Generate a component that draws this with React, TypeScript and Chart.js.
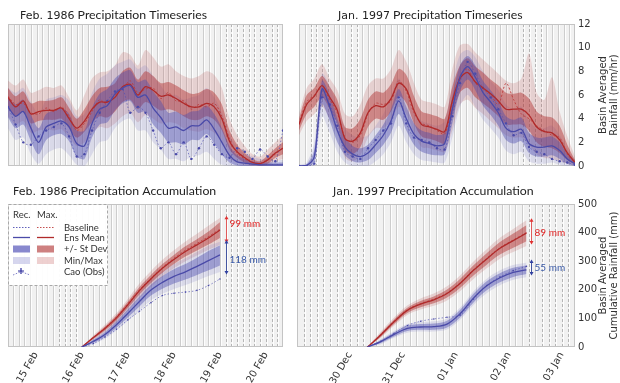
import React, { useEffect, useRef } from 'react';
import { Chart, registerables } from 'chart.js';
Chart.register(...registerables);

// ---------------- DATA ----------------
// Timeseries (mm/hr), hours since start of window
const TS_HOURS = [0,2,4,6,8,10,12,14,16,18,20,22,24,26,28,30,32,34,36,38,40,42,44,46,48,50,52,54,56,58,60,62,64,66,68,70,72];

// Feb. 1986 timeseries
const tlRedMean = [5.8,5.0,5.5,4.4,4.6,4.7,4.7,4.9,4.0,3.2,3.8,4.8,5.4,5.4,5.8,6.7,6.9,6.0,6.7,6.4,5.9,6.0,5.7,5.3,5.0,5.0,5.3,5.0,4.0,2.1,1.2,0.7,0.3,0.2,0.5,1.1,1.5];
const tlRedBase = [5.9,5.2,5.3,4.5,4.4,4.9,4.6,5.0,4.2,3.0,3.6,4.6,5.6,5.2,6.0,6.5,7.2,6.2,6.5,6.6,5.7,6.2,5.5,5.5,4.8,5.2,5.0,5.3,4.2,2.3,1.1,0.6,0.3,0.2,0.6,1.0,1.6];
const tlRedSdLo = [5.0,4.2,4.6,3.6,3.8,3.9,3.9,4.0,3.2,2.4,2.9,3.7,4.2,4.1,4.6,5.4,5.6,4.8,5.4,5.1,4.7,4.8,4.6,4.2,3.9,3.9,4.2,3.9,3.0,1.4,0.7,0.3,0.1,0.05,0.2,0.7,1.0];
const tlRedSdHi = [6.6,5.9,6.3,5.3,5.5,5.5,5.6,5.8,4.9,4.0,4.8,5.9,6.6,6.7,7.0,8.0,8.3,7.3,8.0,7.6,7.0,7.1,6.8,6.4,6.1,6.2,6.5,6.2,5.2,3.0,1.8,1.1,0.6,0.4,0.9,1.5,2.0];
const tlRedMinLo = [4.2,3.5,3.8,2.8,3.0,3.1,3.0,3.1,2.4,1.7,2.0,2.8,3.3,3.2,3.6,4.2,4.5,3.7,4.3,4.0,3.6,3.7,3.6,3.2,3.0,2.9,3.1,2.8,2.0,0.7,0.3,0.1,0,0,0.05,0.4,0.6];
const tlRedMinHi = [7.2,6.8,7.3,6.2,6.4,6.7,6.6,6.8,5.8,4.7,6.0,7.4,7.9,8.0,8.5,9.6,9.4,8.5,9.8,9.2,8.4,8.6,8.0,7.6,7.4,7.6,8.0,7.7,6.6,4.0,2.6,1.7,1.0,0.8,1.4,2.0,2.6];
const tlBlueMean = [5.0,4.2,4.6,3.2,2.0,3.3,3.6,3.8,3.3,1.9,1.7,3.6,4.8,5.1,6.1,6.6,6.8,5.8,6.0,4.9,4.1,3.2,3.3,3.0,3.4,3.4,3.9,3.1,2.0,0.9,0.35,0.25,0.15,0.1,0.1,0.1,0.1];
const tlBlueBase = [5.0,3.5,2.0,1.8,2.5,3.0,3.3,3.6,2.5,0.8,1.0,3.0,4.5,5.5,6.3,6.5,4.5,5.0,4.5,3.0,1.5,2.0,1.0,2.0,0.6,1.5,2.5,1.8,1.0,0.7,1.5,1.2,0.6,1.4,0.8,0.4,3.0];
const tlBlueSdLo = [4.1,3.2,3.5,2.1,1.0,2.2,2.6,2.7,2.1,0.8,0.6,2.4,3.5,3.7,4.7,5.3,5.5,4.5,4.6,3.5,2.8,2.0,2.0,1.8,2.2,2.2,2.7,1.9,1.0,0.3,0.05,0,0,0,0,0,0];
const tlBlueSdHi = [5.8,5.2,5.6,4.3,3.2,4.4,4.7,4.9,4.4,3.0,3.0,4.9,6.1,6.5,7.4,7.9,8.1,7.1,7.3,6.3,5.5,4.5,4.6,4.3,4.6,4.7,5.1,4.4,3.2,1.7,0.9,0.6,0.4,0.3,0.3,0.3,0.3];
const tlBlueMinLo = [3.2,2.2,2.4,1.0,0.2,1.0,1.4,1.5,0.9,0.1,0,1.0,2.0,2.2,3.2,3.8,4.0,3.0,3.0,2.0,1.4,0.6,0.6,0.4,0.8,0.9,1.2,0.6,0.1,0,0,0,0,0,0,0,0];
const tlBlueMinHi = [6.6,6.2,6.6,5.4,4.4,5.6,5.8,6.0,5.5,4.2,4.4,6.2,7.4,7.8,8.5,8.8,9.0,8.2,8.5,7.6,6.8,6.0,6.0,5.6,5.8,6.0,6.6,5.8,4.5,2.6,1.6,1.1,0.8,0.6,0.6,0.5,0.5];

// Jan. 1997 timeseries
const trRedMean = [3.5,5.2,5.9,6.8,5.8,4.7,2.3,2.1,2.8,4.5,5.1,5.0,5.7,7.0,6.5,4.7,3.5,3.3,3.1,2.9,5.5,7.4,7.9,7.1,6.6,6.1,5.5,4.8,4.8,4.8,4.3,3.3,2.9,2.8,2.2,1.1,0.3];
const trRedBase = [3.6,5.4,6.0,6.6,5.6,4.5,2.4,2.0,2.6,4.4,5.3,5.2,5.5,7.2,6.3,4.5,3.6,3.4,3.0,2.7,5.2,7.6,8.2,7.0,6.5,6.0,5.2,7.0,5.6,4.4,4.0,3.4,3.0,2.6,2.4,1.0,0.3];
const trRedSdLo = [3.0,4.4,5.0,5.8,4.8,3.6,1.3,1.0,1.6,3.3,4.0,3.9,4.6,5.9,5.3,3.6,2.5,2.3,2.1,1.9,4.2,6.2,6.6,5.8,5.3,4.8,4.2,3.5,3.5,3.5,3.0,2.0,1.6,1.5,1.1,0.5,0.1];
const trRedSdHi = [4.0,6.0,6.6,7.6,6.7,5.6,3.3,3.2,4.0,5.6,6.3,6.2,6.9,8.2,7.7,5.9,4.6,4.4,4.2,4.0,6.7,8.5,9.1,8.4,7.9,7.3,6.8,6.2,6.1,6.2,5.7,4.6,4.2,4.1,3.4,1.8,0.5];
const trRedMinLo = [2.6,3.8,4.4,5.0,4.0,2.8,0.7,0.4,0.9,2.4,3.2,3.2,3.8,5.0,4.4,2.8,1.6,1.5,1.3,1.2,3.0,5.2,5.6,4.9,4.4,3.8,3.2,2.6,2.4,2.4,1.8,1.0,0.7,0.6,0.4,0.2,0];
const trRedMinHi = [4.4,6.6,7.4,8.6,7.4,6.4,4.4,4.2,5.2,6.8,7.4,7.4,8.2,9.8,8.8,7.0,5.6,5.4,5.2,5.0,8.2,10.2,10.3,9.6,9.0,8.4,7.8,7.2,7.0,7.4,9.5,6.2,5.6,7.5,4.6,2.5,0.8];
const trBlueMean = [0,0.05,0.8,6.5,5.0,3.0,1.6,1.0,0.8,1.1,1.8,2.6,3.8,5.5,4.0,2.7,2.1,1.9,1.7,1.9,4.8,7.5,8.4,7.5,6.2,5.4,4.5,3.2,2.9,3.1,1.9,1.6,1.6,1.7,1.3,0.6,0.2];
const trBlueBase = [0,0,0.2,5.8,5.2,3.4,1.2,0.8,0.6,1.5,2.2,3.0,3.6,5.8,3.6,2.4,2.2,2.0,1.5,1.4,4.2,7.0,8.8,7.8,6.6,5.8,4.8,3.6,2.6,2.8,1.6,1.2,1.0,0.6,0.4,0.3,0.1];
const trBlueSdLo = [0,0,0.3,5.2,3.8,2.0,0.9,0.4,0.3,0.5,1.1,1.8,2.8,4.4,3.0,1.8,1.2,1.0,0.9,1.0,3.6,6.3,7.3,6.4,5.1,4.3,3.4,2.2,1.9,2.1,1.1,0.8,0.8,0.9,0.6,0.2,0];
const trBlueSdHi = [0.05,0.15,1.4,7.2,6.0,4.0,2.4,1.7,1.5,1.8,2.6,3.5,4.8,6.5,5.0,3.6,3.0,2.8,2.6,2.8,5.9,8.5,9.3,8.5,7.2,6.4,5.5,4.2,3.9,4.1,2.8,2.4,2.4,2.5,2.0,1.0,0.4];
const trBlueMinLo = [0,0,0,4.2,2.8,1.2,0.3,0,0,0,0.4,1.0,2.0,3.4,2.0,1.0,0.5,0.4,0.3,0.3,2.4,5.0,6.0,5.0,3.9,3.2,2.4,1.3,1.0,1.2,0.4,0.2,0.2,0.3,0.1,0,0];
const trBlueMinHi = [0.1,0.3,2.0,7.8,6.8,5.0,3.2,2.6,2.4,2.6,3.4,4.4,5.8,7.4,6.0,4.5,3.8,3.6,3.4,3.8,7.0,9.4,9.8,9.2,8.0,7.2,6.4,5.2,4.8,5.0,3.8,3.2,3.2,3.4,2.6,1.4,0.5];

// Accumulation (mm). Feb 1986: hours since 16 Feb 00:00
const BL_HOURS = [0,6,12,18,24,30,36,42,48,54,60,66,72];
const blRedMean = [0,33,65,102,148,197,238,275,306,334,357,381,409];
const blRedBase = [0,34,67,105,152,200,240,278,310,338,362,386,412];
const blRedSdLo = [0,29,58,93,137,184,224,260,290,316,337,358,381];
const blRedSdHi = [0,37,72,111,159,210,252,290,322,352,377,404,436];
const blRedMinLo = [0,25,52,85,127,172,211,246,275,300,320,340,357];
const blRedMinHi = [0,41,78,119,169,222,266,305,338,369,396,424,451];
const blBlueMean = [0,20,44,78,118,159,199,226,247,263,282,302,322];
const blBlueBase = [0,12,35,62,95,125,155,180,188,192,198,215,238];
const blBlueSdLo = [0,15,36,67,104,142,180,204,222,236,252,268,285];
const blBlueSdHi = [0,25,52,89,132,176,218,248,272,290,312,336,355];
const blBlueMinLo = [0,11,29,58,92,128,163,186,203,217,232,248,262];
const blBlueMinHi = [0,29,59,98,144,190,234,264,290,310,332,354,368];
const BL_TICK_VALUES = [-24,0,24,48,72,96];
const BL_TICK_LABELS = ['15 Feb','16 Feb','17 Feb','18 Feb','19 Feb','20 Feb'];

// Jan 1997: hours since 30 Dec 00:00
const BR_HOURS = [8,14,20,26,32,38,44,50,56,62,68,74,80];
const brRedMean = [0,42,88,128,150,165,187,223,268,308,345,372,398];
const brRedBase = [0,44,90,130,152,167,189,225,270,310,347,374,400];
const brRedSdLo = [0,36,80,119,139,153,173,207,250,288,323,347,370];
const brRedSdHi = [0,48,96,137,161,177,201,239,286,328,367,397,426];
const brRedMinLo = [0,32,74,112,131,144,163,196,238,275,309,332,353];
const brRedMinHi = [0,53,103,145,170,187,212,251,299,342,382,413,443];
const brBlueMean = [0,19,44,65,70,71,80,117,171,214,242,261,270];
const brBlueBase = [0,20,48,75,90,98,104,112,168,215,245,267,282];
const brBlueSdLo = [0,14,37,56,60,60,68,104,156,198,226,245,255];
const brBlueSdHi = [0,24,51,74,80,82,92,130,186,230,258,277,285];
const brBlueMinLo = [0,10,32,50,54,54,61,96,147,188,216,235,244];
const brBlueMinHi = [0,28,56,80,87,90,100,138,195,239,268,287,295];
const BR_TICK_VALUES = [0,24,48,72,96];
const BR_TICK_LABELS = ['30 Dec','31 Dec','01 Jan','02 Jan','03 Jan'];

// Spread annotations (mm)
const BL_SPREAD = { x: 75, red: [450, 372], blue: [365, 262], redLabel: '99 mm', blueLabel: '118 mm', redLabelY: 431, blueLabelY: 305 };
const BR_SPREAD = { x: 82, red: [441, 367], blue: [297, 259], redLabel: '89 mm', blueLabel: '55 mm', redLabelY: 400, blueLabelY: 276 };

const LEGEND_HEAD = ['Rec.', 'Max.'];
const LEGEND_LABELS = ['Baseline', 'Ens Mean', '+/- St Dev', 'Min/Max', 'Cao (Obs)'];

// ---------------- STYLE ----------------
const PAGE_BG = '#ffffff';
const PLOT_BG = '#f1f1f1';
const GRID_SOLID = '#cdcdcd';
const GRID_DASH = '#b5b5b5';
const BORDER = '#c4c4c4';
const RED_LINE = '#b02a2a';
const RED_SD = 'rgba(175,45,45,0.45)';
const RED_MM = 'rgba(185,80,80,0.2)';
const BLUE_LINE = '#4a4aa8';
const BLUE_SD = 'rgba(75,75,175,0.42)';
const BLUE_MM = 'rgba(100,100,190,0.17)';
const TEXT_COLOR = '#333333';

type Series = { mean: number[]; base: number[]; sdLo: number[]; sdHi: number[]; minLo: number[]; minHi: number[] };

const pts = (xs: number[], ys: number[]) => xs.map((x, i) => ({ x, y: ys[i] }));

function makeDatasets(xs: number[], red: Series, blue: Series, tension: number, acc: boolean) {
  const band = (data: number[], fill: any, bg: string) => ({
    data: pts(xs, data), fill, backgroundColor: bg, borderColor: 'rgba(0,0,0,0)', borderWidth: 0, pointRadius: 0, tension,
  });
  return [
    { data: pts(xs, blue.mean), borderColor: BLUE_LINE, borderWidth: 1.3, pointRadius: 0, fill: false, tension },
    { data: pts(xs, red.mean), borderColor: RED_LINE, borderWidth: 1.3, pointRadius: 0, fill: false, tension },
    { data: pts(xs, blue.base), borderColor: 'rgba(80,80,180,0.75)', borderWidth: 0.9, borderDash: [1.5, 2], pointRadius: acc ? 0.8 : 1.2, pointBackgroundColor: BLUE_LINE, pointBorderWidth: 0, fill: false, tension },
    { data: pts(xs, red.base), borderColor: 'rgba(190,60,60,0.9)', borderWidth: 1, borderDash: [2, 2], pointRadius: 0, fill: false, tension },
    band(blue.sdHi, '+1', BLUE_SD),
    band(blue.sdLo, false, 'rgba(0,0,0,0)'),
    band(red.sdHi, '+1', RED_SD),
    band(red.sdLo, false, 'rgba(0,0,0,0)'),
    band(blue.minHi, '+1', BLUE_MM),
    band(blue.minLo, false, 'rgba(0,0,0,0)'),
    band(red.minHi, '+1', RED_MM),
    band(red.minLo, false, 'rgba(0,0,0,0)'),
  ];
}

type TitlePart = { text: string; font: string };
type Spec = {
  left: number; top: number; width: number; height: number;
  padding: { left: number; right: number; top: number; bottom: number };
  xs: number[]; red: Series; blue: Series; acc: boolean;
  xmin: number; xmax: number; ymax: number; ystep: number;
  showY: boolean; xTicks?: number[]; xLabels?: string[];
  grid: { start: number; step: number; dashed: number[][] };
  title: { x: number; y: number; parts: TitlePart[] };
  axisTitle?: { x: number[]; lines: string[] };
  spread?: typeof BL_SPREAD;
  legend?: boolean;
};

function arrowHead(ctx: CanvasRenderingContext2D, x: number, y: number, up: boolean, color: string) {
  ctx.fillStyle = color;
  ctx.beginPath();
  if (up) { ctx.moveTo(x, y - 2.5); ctx.lineTo(x - 2, y + 1); ctx.lineTo(x + 2, y + 1); }
  else { ctx.moveTo(x, y + 2.5); ctx.lineTo(x - 2, y - 1); ctx.lineTo(x + 2, y - 1); }
  ctx.closePath();
  ctx.fill();
}

function makeDecor(spec: Spec) {
  return {
    id: 'panelDecor',
    beforeDraw(chart: any) {
      const { ctx, chartArea: a, scales } = chart;
      const x = scales.x;
      ctx.save();
      ctx.fillStyle = PLOT_BG;
      ctx.fillRect(a.left, a.top, a.right - a.left, a.bottom - a.top);
      ctx.lineWidth = 1;
      for (let v = spec.grid.start; v <= spec.xmax; v += spec.grid.step) {
        const px = Math.round(x.getPixelForValue(v)) + 0.5;
        if (px <= a.left + 1 || px >= a.right - 1) continue;
        const dashed = spec.grid.dashed.some((r) => v >= r[0] && v <= r[1]);
        ctx.setLineDash([]);
        ctx.strokeStyle = 'rgba(255,255,255,0.9)';
        ctx.beginPath(); ctx.moveTo(px + 1, a.top); ctx.lineTo(px + 1, a.bottom); ctx.stroke();
        ctx.setLineDash(dashed ? [3, 2] : []);
        ctx.strokeStyle = dashed ? GRID_DASH : GRID_SOLID;
        ctx.beginPath(); ctx.moveTo(px, a.top); ctx.lineTo(px, a.bottom); ctx.stroke();
      }
      ctx.setLineDash([]);
      ctx.strokeStyle = BORDER;
      ctx.strokeRect(a.left + 0.5, a.top + 0.5, a.right - a.left - 1, a.bottom - a.top - 1);
      ctx.restore();
    },
    afterDraw(chart: any) {
      const { ctx, chartArea: a, scales } = chart;
      const x = scales.x, y = scales.y;
      ctx.save();
      // title
      ctx.textBaseline = 'alphabetic';
      ctx.textAlign = 'left';
      ctx.fillStyle = '#222';
      let tx = spec.title.x;
      for (const p of spec.title.parts) {
        ctx.font = p.font;
        ctx.fillText(p.text, tx, spec.title.y);
        tx += ctx.measureText(p.text).width;
      }
      // axis title (rotated)
      if (spec.axisTitle) {
        ctx.font = '10px "DejaVu Sans"';
        ctx.fillStyle = TEXT_COLOR;
        ctx.textAlign = 'center';
        ctx.textBaseline = 'middle';
        const cy = (a.top + a.bottom) / 2;
        spec.axisTitle.lines.forEach((line, i) => {
          ctx.save();
          ctx.translate(spec.axisTitle!.x[i], cy);
          ctx.rotate(-Math.PI / 2);
          ctx.fillText(line, 0, 0);
          ctx.restore();
        });
      }
      // spread annotation
      if (spec.spread) {
        const s = spec.spread;
        const px = Math.round(x.getPixelForValue(s.x)) + 0.5;
        const r0 = y.getPixelForValue(s.red[0]), r1 = y.getPixelForValue(s.red[1]);
        const b0 = y.getPixelForValue(s.blue[0]), b1 = y.getPixelForValue(s.blue[1]);
        ctx.lineWidth = 1;
        ctx.strokeStyle = '#e05a5a';
        ctx.beginPath(); ctx.moveTo(px, r0); ctx.lineTo(px, r1); ctx.stroke();
        ctx.strokeStyle = '#4456a0';
        ctx.beginPath(); ctx.moveTo(px, b0); ctx.lineTo(px, b1); ctx.stroke();
        arrowHead(ctx, px, r0, true, '#e03030');
        arrowHead(ctx, px, r1, false, '#e03030');
        arrowHead(ctx, px, b0, true, '#3040a0');
        arrowHead(ctx, px, b1, false, '#3040a0');
        ctx.font = '10px Lato';
        ctx.textAlign = 'left';
        ctx.textBaseline = 'middle';
        ctx.fillStyle = '#e02020';
        ctx.fillText(s.redLabel, px + 3, y.getPixelForValue(s.redLabelY));
        ctx.fillStyle = '#3a5aa8';
        ctx.fillText(s.blueLabel, px + 3, y.getPixelForValue(s.blueLabelY));
      }
      // legend
      if (spec.legend) {
        const L = a.left, T = a.top;
        ctx.fillStyle = 'rgba(255,255,255,0.96)';
        ctx.fillRect(L + 0.5, T + 0.5, 99, 81);
        ctx.setLineDash([3, 2]);
        ctx.strokeStyle = '#a8a8a8';
        ctx.lineWidth = 1;
        ctx.strokeRect(L + 0.5, T + 0.5, 99, 81);
        ctx.setLineDash([]);
        ctx.font = '9.5px Lato';
        ctx.fillStyle = TEXT_COLOR;
        ctx.textAlign = 'left';
        ctx.textBaseline = 'alphabetic';
        ctx.fillText(LEGEND_HEAD[0], L + 5, T + 14);
        ctx.fillText(LEGEND_HEAD[1], L + 29, T + 14);
        const rowY = [23, 33.5, 44.5, 56, 67].map((r) => T + r);
        LEGEND_LABELS.forEach((lab, i) => ctx.fillText(lab, L + 56, rowY[i] + 3.5));
        const c1 = L + 5, c2 = L + 29, w = 17;
        // baseline
        ctx.lineWidth = 1;
        ctx.setLineDash([1.5, 1.5]);
        ctx.strokeStyle = 'rgba(80,80,180,0.9)';
        ctx.beginPath(); ctx.moveTo(c1, rowY[0] + 0.5); ctx.lineTo(c1 + w, rowY[0] + 0.5); ctx.stroke();
        ctx.strokeStyle = 'rgba(190,60,60,0.9)';
        ctx.beginPath(); ctx.moveTo(c2, rowY[0] + 0.5); ctx.lineTo(c2 + w, rowY[0] + 0.5); ctx.stroke();
        ctx.setLineDash([]);
        // mean
        ctx.lineWidth = 1.3;
        ctx.strokeStyle = BLUE_LINE;
        ctx.beginPath(); ctx.moveTo(c1, rowY[1]); ctx.lineTo(c1 + w, rowY[1]); ctx.stroke();
        ctx.strokeStyle = RED_LINE;
        ctx.beginPath(); ctx.moveTo(c2, rowY[1]); ctx.lineTo(c2 + w, rowY[1]); ctx.stroke();
        // sd
        ctx.fillStyle = 'rgba(85,85,185,0.7)'; ctx.fillRect(c1, rowY[2] - 3, w, 7);
        ctx.fillStyle = 'rgba(180,60,60,0.65)'; ctx.fillRect(c2, rowY[2] - 3, w, 7);
        // min/max
        ctx.fillStyle = 'rgba(120,120,200,0.3)'; ctx.fillRect(c1, rowY[3] - 3, w, 7);
        ctx.fillStyle = 'rgba(200,100,100,0.3)'; ctx.fillRect(c2, rowY[3] - 3, w, 7);
        // obs marker
        const ox = c1 + 8, oy = rowY[4];
        ctx.strokeStyle = '#2a2a9a';
        ctx.lineWidth = 1.2;
        ctx.beginPath(); ctx.moveTo(ox - 3, oy); ctx.lineTo(ox + 3, oy); ctx.moveTo(ox, oy - 3); ctx.lineTo(ox, oy + 3); ctx.stroke();
        ctx.lineWidth = 0.8;
        ctx.setLineDash([1.5, 1.5]);
        ctx.strokeStyle = 'rgba(60,60,170,0.8)';
        ctx.beginPath(); ctx.moveTo(c1, oy + 4); ctx.lineTo(ox - 1, oy + 1); ctx.moveTo(ox + 1, oy + 1); ctx.lineTo(c1 + w, oy + 4); ctx.stroke();
        ctx.setLineDash([]);
      }
      ctx.restore();
    },
  };
}

function buildConfig(spec: Spec): any {
  const xScale: any = {
    type: 'linear', min: spec.xmin, max: spec.xmax, display: !!spec.xTicks,
    grid: { display: false, drawTicks: false }, border: { display: false },
  };
  if (spec.xTicks) {
    const vals = spec.xTicks, labs = spec.xLabels!;
    xScale.afterBuildTicks = (s: any) => { s.ticks = vals.map((v) => ({ value: v })); };
    xScale.afterFit = (s: any) => { s.height = 36; };
    xScale.ticks = {
      autoSkip: false, minRotation: 60, maxRotation: 60, padding: 3,
      font: { family: 'DejaVu Sans', size: 10 }, color: TEXT_COLOR,
      callback: (_v: any, i: number) => labs[i],
    };
  }
  const yScale: any = {
    type: 'linear', min: 0, max: spec.ymax, position: 'right', display: spec.showY,
    grid: { display: false, drawTicks: false }, border: { display: false },
    ticks: { stepSize: spec.ystep, padding: 3, font: { family: 'DejaVu Sans', size: 10 }, color: TEXT_COLOR },
  };
  if (spec.showY) yScale.afterFit = (s: any) => { s.width = 25; };
  return {
    type: 'line',
    data: { datasets: makeDatasets(spec.xs, spec.red, spec.blue, spec.acc ? 0.35 : 0.3, spec.acc) },
    options: {
      responsive: false, animation: false, maintainAspectRatio: false,
      layout: { padding: spec.padding },
      plugins: { legend: { display: false }, tooltip: { enabled: false }, title: { display: false } },
      scales: { x: xScale, y: yScale },
      events: [],
    },
    plugins: [makeDecor(spec)],
  };
}

const titleParts = (date: string, rest: string): TitlePart[] => [
  { text: date, font: '11px "DejaVu Sans"' },
  { text: ' ' + rest, font: '12.3px Lato' },
];

const SPECS: Spec[] = [
  {
    left: 0, top: 0, width: 290, height: 180,
    padding: { left: 8, right: 7, top: 24, bottom: 14 },
    xs: TS_HOURS,
    red: { mean: tlRedMean, base: tlRedBase, sdLo: tlRedSdLo, sdHi: tlRedSdHi, minLo: tlRedMinLo, minHi: tlRedMinHi },
    blue: { mean: tlBlueMean, base: tlBlueBase, sdLo: tlBlueSdLo, sdHi: tlBlueSdHi, minLo: tlBlueMinLo, minHi: tlBlueMinHi },
    acc: false, xmin: 0, xmax: 72, ymax: 12, ystep: 2, showY: false,
    grid: { start: 0, step: 1.5, dashed: [[57, 72]] },
    title: { x: 20, y: 19, parts: titleParts('Feb. 1986', 'Precipitation Timeseries') },
  },
  {
    left: 290, top: 0, width: 330, height: 180,
    padding: { left: 9, right: 20, top: 24, bottom: 14 },
    xs: TS_HOURS,
    red: { mean: trRedMean, base: trRedBase, sdLo: trRedSdLo, sdHi: trRedSdHi, minLo: trRedMinLo, minHi: trRedMinHi },
    blue: { mean: trBlueMean, base: trBlueBase, sdLo: trBlueSdLo, sdHi: trBlueSdHi, minLo: trBlueMinLo, minHi: trBlueMinHi },
    acc: false, xmin: 0, xmax: 72, ymax: 12, ystep: 2, showY: true,
    grid: { start: 0, step: 1.5, dashed: [[3, 8], [13, 16], [58, 63]] },
    title: { x: 48, y: 19, parts: titleParts('Jan. 1997', 'Precipitation Timeseries') },
    axisTitle: { x: [313, 324], lines: ['Basin Averaged', 'Rainfall (mm/hr)'] },
  },
  {
    left: 0, top: 180, width: 290, height: 203,
    padding: { left: 8, right: 7, top: 24, bottom: 0 },
    xs: BL_HOURS,
    red: { mean: blRedMean, base: blRedBase, sdLo: blRedSdLo, sdHi: blRedSdHi, minLo: blRedMinLo, minHi: blRedMinHi },
    blue: { mean: blBlueMean, base: blBlueBase, sdLo: blBlueSdLo, sdHi: blBlueSdHi, minLo: blBlueMinLo, minHi: blBlueMinHi },
    acc: true, xmin: -38.6, xmax: 104.9, ymax: 500, ystep: 100, showY: false,
    xTicks: BL_TICK_VALUES, xLabels: BL_TICK_LABELS,
    grid: { start: -36, step: 3, dashed: [[-12, -3], [75, 105]] },
    title: { x: 13, y: 15, parts: titleParts('Feb. 1986', 'Precipitation Accumulation') },
    spread: BL_SPREAD, legend: true,
  },
  {
    left: 290, top: 180, width: 330, height: 203,
    padding: { left: 7, right: 20, top: 24, bottom: 0 },
    xs: BR_HOURS,
    red: { mean: brRedMean, base: brRedBase, sdLo: brRedSdLo, sdHi: brRedSdHi, minLo: brRedMinLo, minHi: brRedMinHi },
    blue: { mean: brBlueMean, base: brBlueBase, sdLo: brBlueSdLo, sdHi: brBlueSdHi, minLo: brBlueMinLo, minHi: brBlueMinHi },
    acc: true, xmin: -24, xmax: 102, ymax: 500, ystep: 100, showY: true,
    xTicks: BR_TICK_VALUES, xLabels: BR_TICK_LABELS,
    grid: { start: -21, step: 3, dashed: [[-24, 6], [79, 82], [85, 102]] },
    title: { x: 43, y: 15, parts: titleParts('Jan. 1997', 'Precipitation Accumulation') },
    axisTitle: { x: [313, 324], lines: ['Basin Averaged', 'Cumulative Rainfall (mm)'] },
    spread: BR_SPREAD,
  },
];

function Panel({ spec }: { spec: Spec }) {
  const ref = useRef<HTMLCanvasElement>(null);
  useEffect(() => {
    const chart = new Chart(ref.current as HTMLCanvasElement, buildConfig(spec));
    return () => chart.destroy();
  }, [spec]);
  return (
    <canvas
      ref={ref}
      width={spec.width}
      height={spec.height}
      style={{ position: 'absolute', left: spec.left, top: spec.top, width: spec.width, height: spec.height }}
    />
  );
}

export default function App() {
  return (
    <div style={{ position: 'fixed', left: 0, top: 0, width: 620, height: 383, background: PAGE_BG, overflow: 'hidden' }}>
      {SPECS.map((s, i) => <Panel key={i} spec={s} />)}
    </div>
  );
}
